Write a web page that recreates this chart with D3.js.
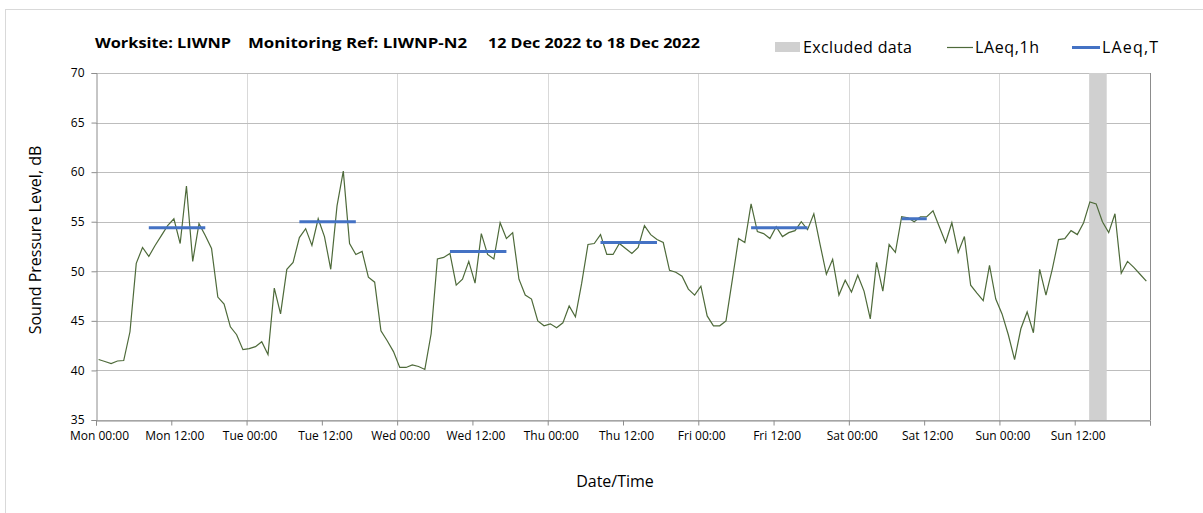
<!DOCTYPE html>
<html>
<head>
<meta charset="utf-8">
<script src="https://cdn.jsdelivr.net/npm/d3@7"></script>
<style>
  body { margin: 0; background: #fff; }
  text { font-family: "Open Sans", sans-serif; fill: #000; }
</style>
</head>
<body>
<div class="chart"></div>
<script>
// hourly LAeq,1h values, Mon 12 Dec 2022 to Sun 18 Dec 2022
const laeq1h = [
  41.1, 40.9, 40.7, 40.95, 41.0, 43.9, 50.8, 52.4, 51.5, 52.6, 53.6, 54.6,
  55.3, 52.8, 58.6, 51.0, 54.8, 53.6, 52.3, 47.4, 46.7, 44.4, 43.6, 42.1,
  42.2, 42.4, 42.9, 41.6, 48.3, 45.7, 50.2, 50.9, 53.4, 54.3, 52.6, 55.3,
  53.5, 50.2, 56.6, 60.1, 52.8, 51.7, 52.0, 49.4, 48.9, 44.0, 43.0, 41.9,
  40.3, 40.3, 40.55, 40.4, 40.1, 43.7, 51.25, 51.4, 51.8, 48.6, 49.2, 51.0,
  48.8, 53.8, 51.7, 51.25, 54.9, 53.3, 53.9, 49.2, 47.6, 47.2, 45.0, 44.5,
  44.7, 44.3, 44.8, 46.5, 45.4, 48.8, 52.7, 52.8, 53.7, 51.7, 51.7, 52.8,
  52.3, 51.8, 52.4, 54.6, 53.7, 53.2, 52.9, 50.1, 49.9, 49.5, 48.2, 47.6,
  48.5, 45.5, 44.5, 44.5, 45.0, 49.1, 53.3, 52.9, 56.8, 54.0, 53.8, 53.3,
  54.5, 53.5, 53.9, 54.1, 55.0, 54.2, 55.8, 52.7, 49.7, 51.2, 47.6, 49.1,
  47.9, 49.6, 48.0, 45.2, 50.9, 48.0, 52.7, 51.9, 55.5, 55.4, 55.0, 55.5,
  55.5, 56.1, 54.5, 52.9, 54.9, 51.9, 53.5, 48.6, 47.8, 47.05, 50.6, 47.2,
  45.7, 43.6, 41.1, 44.2, 45.9, 43.8, 50.2, 47.6, 50.2, 53.2, 53.3, 54.1,
  53.7, 54.9, 57.0, 56.8, 55.0, 53.9, 55.8, 49.8, 51.0, 50.4, 49.7, 49.0
];

// LAeq,T day periods (hour index of first / last sample)
const periodFrom = [8, 32, 56, 80, 104, 128];
const periodTo = [17, 41, 65, 89, 113, 132];
const laeqT = [54.4, 55.0, 52.0, 52.9, 54.4, 55.3];

// excluded data window
const excludedFrom = new Date(2022, 11, 18, 14, 18);
const excludedTo = new Date(2022, 11, 18, 17, 6);

const yTicks = [35, 40, 45, 50, 55, 60, 65, 70];

const axisStart = new Date(2022, 11, 12, 0, 0);
const axisEnd = new Date(2022, 11, 19, 0, 0);
const firstSample = new Date(2022, 11, 12, 0, 25);
const sampleTime = i => d3.timeHour.offset(firstSample, i);

const w = 1203;
const h = 513;
const margin = { top: 73, right: 53, bottom: 93, left: 96 };

const svg = d3.select('.chart')
  .append('svg')
  .attr('width', w)
  .attr('height', h);

// chart border
svg.append('rect')
  .attr('x', 5.5).attr('y', 9.5)
  .attr('width', 1400).attr('height', 700)
  .attr('fill', 'none')
  .attr('stroke', '#d9d9d9');

const x = d3.scaleTime()
  .domain([axisStart, axisEnd])
  .range([margin.left, w - margin.right]);

const y = d3.scaleLinear()
  .domain([35, 70])
  .range([h - margin.bottom, margin.top]);

const x0 = margin.left, x1 = w - margin.right;
const yTop = margin.top, yBot = h - margin.bottom;

// vertical gridlines at midnight
const days = d3.timeDay.range(axisStart, axisEnd).slice(1);
svg.append('g')
  .selectAll('line')
  .data(days)
  .join('line')
  .attr('x1', d => Math.round(x(d)) + 0.5)
  .attr('x2', d => Math.round(x(d)) + 0.5)
  .attr('y1', yTop)
  .attr('y2', yBot)
  .attr('stroke', '#d9d9d9');

// horizontal gridlines
svg.append('g')
  .selectAll('line')
  .data(yTicks)
  .join('line')
  .attr('x1', x0)
  .attr('x2', x1)
  .attr('y1', d => Math.round(y(d)) + 0.5)
  .attr('y2', d => Math.round(y(d)) + 0.5)
  .attr('stroke', '#bdbdbd');

// excluded band
svg.append('rect')
  .attr('x', x(excludedFrom))
  .attr('y', yTop)
  .attr('width', x(excludedTo) - x(excludedFrom))
  .attr('height', yBot - yTop)
  .attr('fill', '#d0d0d0');

// right frame line
svg.append('line')
  .attr('x1', Math.round(x1) + 0.5).attr('x2', Math.round(x1) + 0.5)
  .attr('y1', yTop).attr('y2', yBot)
  .attr('stroke', '#8c8c8c');

// axes
const xAxis = d3.axisBottom(x)
  .ticks(d3.timeHour.every(12))
  .tickSize(5)
  .tickFormat(d => d < axisEnd ? d3.timeFormat('%a %H:%M')(d) : '');

const gx = svg.append('g')
  .attr('transform', `translate(0, ${Math.round(yBot) + 0.5})`)
  .call(xAxis);
gx.select('.domain').attr('stroke', '#8c8c8c');
gx.selectAll('.tick line').attr('stroke', '#8c8c8c');
gx.selectAll('.tick text')
  .attr('dx', 3)
  .attr('dy', '0.95em')
  .style('font-size', '12px')
  .style('font-family', '"Open Sans", sans-serif');

const yAxis = d3.axisLeft(y)
  .tickValues(yTicks)
  .tickSize(5)
  .tickFormat(d3.format('d'));

const gy = svg.append('g')
  .attr('transform', `translate(${Math.round(x0) + 0.5}, 0)`)
  .call(yAxis);
gy.select('.domain').attr('stroke', '#8c8c8c');
gy.selectAll('.tick line').attr('stroke', '#8c8c8c');
gy.selectAll('.tick text')
  .attr('x', -12)
  .style('font-size', '12px')
  .style('font-family', '"Open Sans", sans-serif');

// LAeq,1h line
const line = d3.line()
  .x((d, i) => x(sampleTime(i)))
  .y(d => y(d));

svg.append('path')
  .datum(laeq1h)
  .attr('fill', 'none')
  .attr('stroke', '#4e6a3a')
  .attr('stroke-width', 1.2)
  .attr('d', line);

// LAeq,T segments
svg.append('g')
  .selectAll('line')
  .data(laeqT)
  .join('line')
  .attr('x1', (d, i) => x(sampleTime(periodFrom[i])))
  .attr('x2', (d, i) => x(sampleTime(periodTo[i])))
  .attr('y1', d => y(d))
  .attr('y2', d => y(d))
  .attr('stroke', '#4472c4')
  .attr('stroke-width', 3);

// title
const title = svg.append('g')
  .style('font-weight', 'bold')
  .style('font-size', '14px');
[['Worksite: LIWNP', 95, 136], ['Monitoring Ref: LIWNP-N2', 248, 219], ['12 Dec 2022 to 18 Dec 2022', 488, 212]]
  .forEach(([t, tx, tl]) => {
    title.append('text')
      .attr('x', tx)
      .attr('y', 48)
      .attr('textLength', tl)
      .attr('lengthAdjust', 'spacingAndGlyphs')
      .text(t);
  });

// legend
const legend = svg.append('g').style('font-size', '16px');
legend.append('rect')
  .attr('x', 775).attr('y', 42)
  .attr('width', 25).attr('height', 10)
  .attr('fill', '#d0d0d0');
legend.append('text').attr('x', 803).attr('y', 53).attr('textLength', 109).text('Excluded data');
legend.append('line')
  .attr('x1', 947).attr('x2', 973).attr('y1', 47.5).attr('y2', 47.5)
  .attr('stroke', '#4e6a3a').attr('stroke-width', 1.2);
legend.append('text').attr('x', 975).attr('y', 53).attr('textLength', 64).text('LAeq,1h');
legend.append('line')
  .attr('x1', 1072).attr('x2', 1100).attr('y1', 47.5).attr('y2', 47.5)
  .attr('stroke', '#4472c4').attr('stroke-width', 3);
legend.append('text').attr('x', 1102).attr('y', 53).attr('textLength', 56).text('LAeq,T');

// axis titles
svg.append('text')
  .attr('transform', 'translate(41, 240) rotate(-90)')
  .attr('text-anchor', 'middle')
  .style('font-size', '16px')
  .text('Sound Pressure Level, dB');

svg.append('text')
  .attr('x', 615)
  .attr('y', 487)
  .attr('text-anchor', 'middle')
  .style('font-size', '16px')
  .text('Date/Time');
</script>
</body>
</html>
